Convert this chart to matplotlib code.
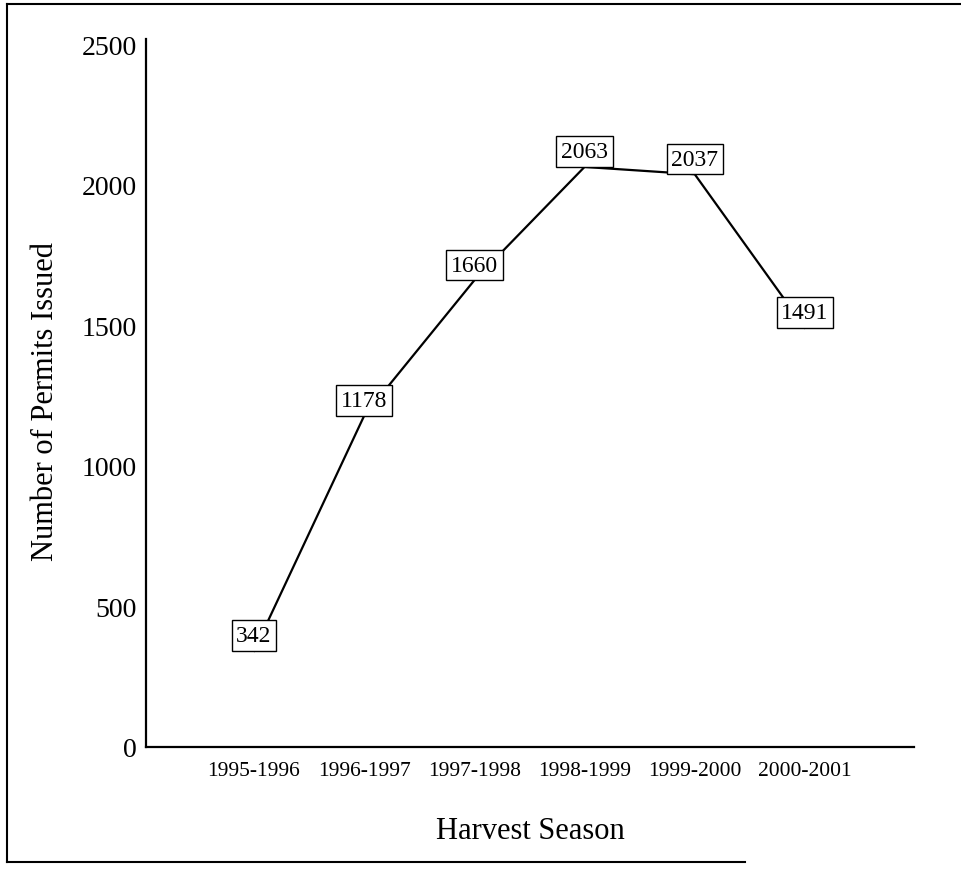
import matplotlib
matplotlib.use("Agg")
import matplotlib.pyplot as plt
from matplotlib.lines import Line2D

seasons = ["1995-1996", "1996-1997", "1997-1998", "1998-1999", "1999-2000", "2000-2001"]
permits = [342, 1178, 1660, 2063, 2037, 1491]
y_ticks = [0, 500, 1000, 1500, 2000, 2500]

plt.rcParams['font.family'] = ['Liberation Serif', 'DejaVu Serif']

W, H = 962, 870
fig = plt.figure(figsize=(W / 100, H / 100), dpi=100)
ax = fig.add_axes([146 / W, (H - 748) / H, (914 - 146) / W, (748 - 40) / H])

x = list(range(len(seasons)))
ax.plot(x, permits, color='black', lw=1.6, zorder=2)

for xi, v in zip(x, permits):
    ax.annotate(str(v), (xi, v), xytext=(0, 3.4), textcoords='offset points',
                ha='center', va='bottom', fontsize=17, zorder=3,
                bbox=dict(boxstyle='square,pad=0.2', fc='white', ec='black', lw=1.0))

ax.set_xlim(-0.98, 5.99)
ax.set_ylim(0, 2518)
ax.set_yticks(y_ticks)
ax.set_yticklabels([str(t) for t in y_ticks], fontsize=20)
ax.set_xticks(x)
ax.set_xticklabels(seasons, fontsize=15.5)
ax.tick_params(axis='y', length=0, pad=6.5)
ax.tick_params(axis='x', length=0, pad=10)
for s in ('top', 'right'):
    ax.spines[s].set_visible(False)
for s in ('left', 'bottom'):
    ax.spines[s].set_linewidth(1.6)

ax.set_ylabel("Number of Permits Issued", fontsize=22)
ax.yaxis.set_label_coords((45 - 146) / (914 - 146), 0.49)
ax.set_xlabel("Harvest Season", fontsize=22)
ax.xaxis.set_label_coords(0.5, (748 - 832) / (748 - 40))
ax.xaxis.label.set_va('center')
ax.yaxis.label.set_va('center')

# figure frame (left, top, bottom lines as in the scan)
def fx(px):
    return px / W
def fy(py):
    return 1 - py / H
fig.add_artist(Line2D([fx(7), fx(7)], [fy(5), fy(863)], color='black', lw=1.5))
fig.add_artist(Line2D([fx(7), fx(962)], [fy(5), fy(5)], color='black', lw=1.5))
fig.add_artist(Line2D([fx(7), fx(745)], [fy(863), fy(863)], color='black', lw=1.5))

fig.savefig("out.png", dpi=100)
